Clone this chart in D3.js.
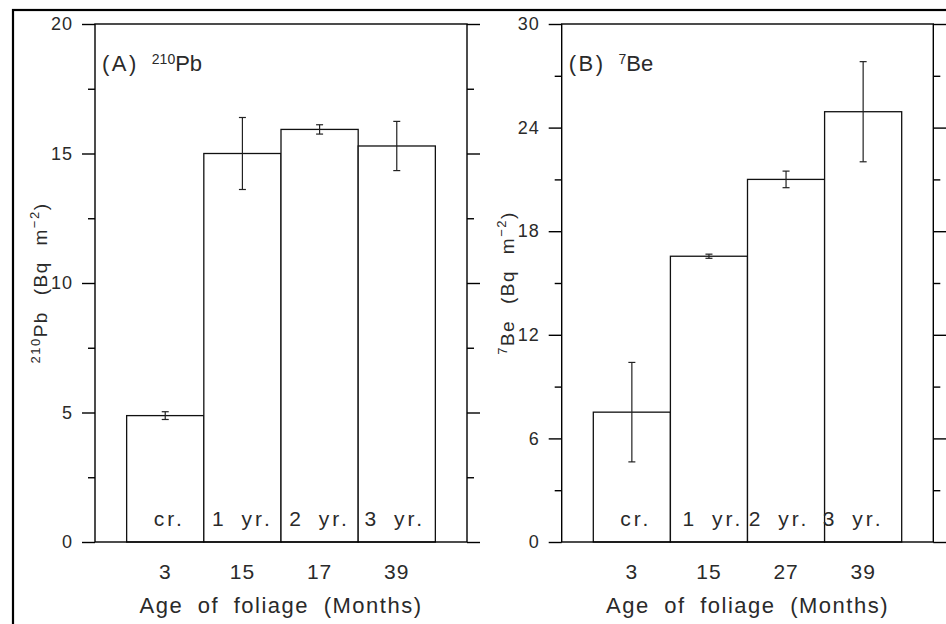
<!DOCTYPE html>
<html>
<head>
<meta charset="utf-8">
<script src="https://cdn.jsdelivr.net/npm/d3@7"></script>
<style>
  body { margin: 0; background: #fff; }
  svg { display: block; }
  text { font-family: "Liberation Sans", Arial, sans-serif; fill: #2a2a2a; }
</style>
</head>
<body>
<svg id="chart" width="946" height="624"></svg>
<script>
// Needle age classes and the foliage age (months) of each class
const stageLabels = ["cr.", "1 yr.", "2 yr.", "3 yr."];
const pbAgeMonths = ["3", "15", "17", "39"];
const beAgeMonths = ["3", "15", "27", "39"];

// 210Pb inventory on foliage (Bq m^-2): mean and error
const pbMean = [4.88, 15.0, 15.93, 15.29];
const pbErr  = [0.15, 1.39, 0.18, 0.95];

// 7Be inventory on foliage (Bq m^-2): mean and error
const beMean = [7.52, 16.55, 21.0, 24.92];
const beErr  = [2.88, 0.12, 0.48, 2.9];

// Major ticks of the two value axes
const pbTicks = [0, 5, 10, 15, 20];
const beTicks = [0, 6, 12, 18, 24, 30];

const svg = d3.select("#chart");
const plotTop = 24, plotBottom = 542;
const FONT = "'Liberation Sans', Arial, sans-serif";
const INK = "#2a2a2a";

// Outer figure frame (runs off the right and bottom edges)
svg.append("rect")
  .attr("x", 13).attr("y", 10)
  .attr("width", 1000).attr("height", 1000)
  .attr("fill", "none").attr("stroke", "#000").attr("stroke-width", 2.2);

const panels = [
  { left: 95, right: 467, ages: pbAgeMonths, mean: pbMean, err: pbErr,
    ticks: pbTicks, tag: "(A)", sup: "210", el: "Pb", labelDx: [4, 0, 0, -2] },
  { left: 561.7, right: 933.3, ages: beAgeMonths, mean: beMean, err: beErr,
    ticks: beTicks, tag: "(B)", sup: "7", el: "Be", labelDx: [4, 4, -7, -10] }
];

panels.forEach(p => {
  const g = svg.append("g");
  const maxV = d3.max(p.ticks);
  const stepV = p.ticks[1] - p.ticks[0];
  const minorTicks = p.ticks.slice(0, -1).map(t => t + stepV / 2);

  const y = d3.scaleLinear().domain([0, maxV]).range([plotBottom, plotTop]);
  const x = d3.scaleBand().domain(d3.range(stageLabels.length))
    .range([p.left, p.right]).paddingOuter(0.41).paddingInner(0);
  const bw = x.bandwidth();

  // Bars
  g.selectAll("rect.bar").data(p.mean).join("rect")
    .attr("class", "bar")
    .attr("x", (d, i) => x(i))
    .attr("y", d => y(d))
    .attr("width", bw)
    .attr("height", d => y(0) - y(d))
    .attr("fill", "#fff")
    .attr("stroke", "#111")
    .attr("stroke-width", 1.3);

  // Error bars
  const eb = g.selectAll("g.err").data(p.mean).join("g").attr("class", "err")
    .attr("stroke", "#222").attr("stroke-width", 1.2);
  eb.append("line")
    .attr("x1", (d, i) => x(i) + bw / 2).attr("x2", (d, i) => x(i) + bw / 2)
    .attr("y1", (d, i) => y(d - p.err[i])).attr("y2", (d, i) => y(d + p.err[i]));
  [-1, 1].forEach(s => {
    eb.append("line")
      .attr("x1", (d, i) => x(i) + bw / 2 - 3.5).attr("x2", (d, i) => x(i) + bw / 2 + 3.5)
      .attr("y1", (d, i) => y(d + s * p.err[i])).attr("y2", (d, i) => y(d + s * p.err[i]));
  });

  // Plot frame
  g.append("rect")
    .attr("x", p.left).attr("y", plotTop)
    .attr("width", p.right - p.left).attr("height", plotBottom - plotTop)
    .attr("fill", "none").attr("stroke", "#000").attr("stroke-width", 1.4);

  // Left value axis: major ticks with labels, minor ticks
  const leftMajor = g.append("g").attr("transform", `translate(${p.left},0)`)
    .call(d3.axisLeft(y).tickValues(p.ticks).tickSize(13).tickSizeOuter(0).tickPadding(9));
  leftMajor.select(".domain").remove();
  leftMajor.selectAll("line").attr("stroke", "#000").attr("stroke-width", 1.4);
  leftMajor.selectAll("text")
    .attr("font-size", 18).attr("letter-spacing", 1)
    .style("font-family", FONT).attr("fill", INK);

  const leftMinor = g.append("g").attr("transform", `translate(${p.left},0)`)
    .call(d3.axisLeft(y).tickValues(minorTicks).tickSize(7).tickFormat(""));
  leftMinor.select(".domain").remove();
  leftMinor.selectAll("line").attr("stroke", "#000").attr("stroke-width", 1.4);

  // Right value axis: ticks only
  const rightMajor = g.append("g").attr("transform", `translate(${p.right},0)`)
    .call(d3.axisRight(y).tickValues(p.ticks).tickSize(13).tickFormat(""));
  rightMajor.select(".domain").remove();
  rightMajor.selectAll("line").attr("stroke", "#000").attr("stroke-width", 1.4);

  const rightMinor = g.append("g").attr("transform", `translate(${p.right},0)`)
    .call(d3.axisRight(y).tickValues(minorTicks).tickSize(7).tickFormat(""));
  rightMinor.select(".domain").remove();
  rightMinor.selectAll("line").attr("stroke", "#000").attr("stroke-width", 1.4);

  // Foliage age axis (labels only)
  const xAxis = g.append("g").attr("transform", `translate(0,${plotBottom})`)
    .call(d3.axisBottom(x).tickSize(0).tickPadding(22).tickFormat(i => p.ages[i]));
  xAxis.select(".domain").remove();
  xAxis.selectAll("text")
    .attr("font-size", 21).attr("letter-spacing", 1)
    .style("font-family", FONT).attr("fill", INK);

  // Age-class labels inside the bars
  g.selectAll("text.stage").data(stageLabels).join("text")
    .attr("class", "stage")
    .attr("x", (d, i) => x(i) + bw / 2 + p.labelDx[i])
    .attr("y", 526)
    .attr("text-anchor", "middle")
    .attr("font-size", 21)
    .attr("letter-spacing", 3)
    .attr("word-spacing", 6)
    .text(d => d);

  // Axis titles
  const cx = (p.left + p.right) / 2;
  g.append("text")
    .attr("x", cx).attr("y", 613)
    .attr("text-anchor", "middle")
    .attr("font-size", 22)
    .attr("letter-spacing", 1.5)
    .attr("word-spacing", 7)
    .text("Age of foliage (Months)");

  const yt = g.append("text")
    .attr("transform", `translate(${p.left - 48},${(plotTop + plotBottom) / 2}) rotate(-90)`)
    .attr("text-anchor", "middle")
    .attr("font-size", 19)
    .attr("letter-spacing", 1.5)
    .attr("word-spacing", 9);
  yt.append("tspan").attr("font-size", 13).attr("dy", -7).text(p.sup);
  yt.append("tspan").attr("dy", 7).text(p.el + " (Bq m");
  yt.append("tspan").attr("font-size", 13).attr("dy", -8).text("\u22122");
  yt.append("tspan").attr("dy", 8).text(")");

  // Panel tag
  const tag = g.append("text")
    .attr("x", p.left + 7).attr("y", 71)
    .attr("font-size", 22);
  tag.append("tspan").attr("letter-spacing", 2.5).text(p.tag);
  tag.append("tspan").attr("dx", 13).attr("dy", -7).attr("font-size", 14).text(p.sup);
  tag.append("tspan").attr("dy", 7).text(p.el);
});
</script>
</body>
</html>
